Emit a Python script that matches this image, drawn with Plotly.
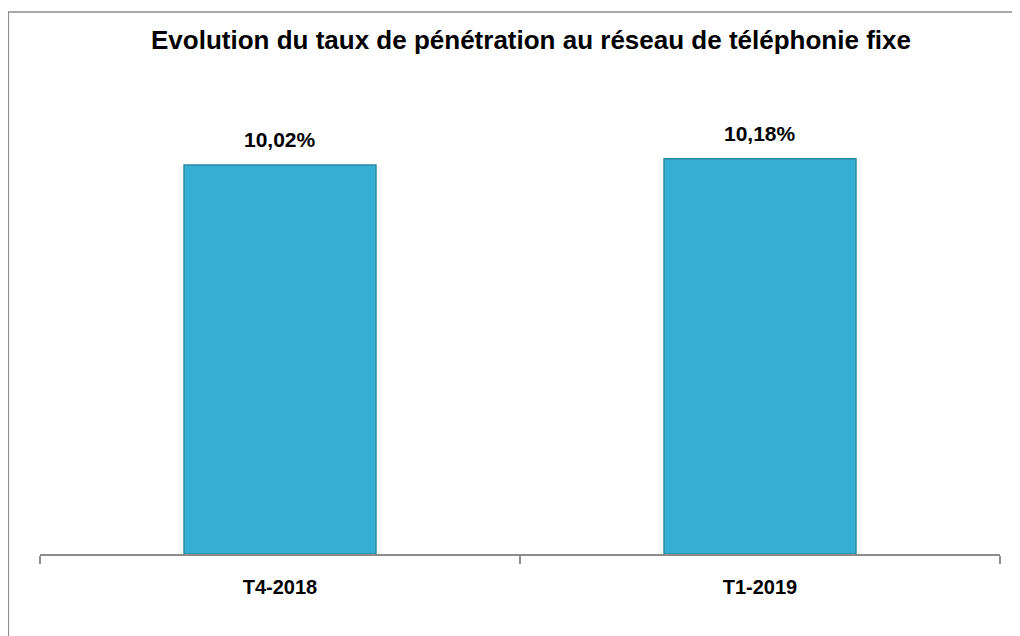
import plotly.graph_objects as go

categories = ["T4-2018", "T1-2019"]
values = [10.02, 10.18]
labels = ["10,02%", "10,18%"]
title_text = "Evolution du taux de pénétration au réseau de téléphonie fixe"

FONT = "Liberation Sans, Arial, sans-serif"

fig = go.Figure()
fig.add_trace(go.Bar(
    x=categories, y=values, width=0.4,
    marker=dict(color="#36ADD3", line=dict(color="#2A8BA8", width=1.5)),
    hoverinfo="skip",
))

for c, v, t in zip(categories, values, labels):
    fig.add_annotation(x=c, y=v, text=t, showarrow=False, yanchor="bottom",
                       yshift=12, font=dict(family=FONT, size=21, color="black", weight="bold"))

# outer frame (page is offset by the 8px body margin)
fig.add_shape(type="rect", xref="paper", yref="paper",
              x0=-0.033, x1=1.03, y0=-0.2, y1=1.163,
              line=dict(color="#8C8C8C", width=1.5), fillcolor="rgba(0,0,0,0)", layer="below")

fig.update_layout(
    width=1020, height=636,
    margin=dict(l=32, r=28, t=80, b=90),
    paper_bgcolor="white", plot_bgcolor="white",
    showlegend=False,
    title=dict(text=title_text, x=523 / 1020, xanchor="center", y=1 - 32 / 636, yanchor="middle",
               font=dict(family=FONT, size=26, color="black", weight="bold")),
    xaxis=dict(type="category", tickson="boundaries", ticks="outside", ticklen=8,
               tickcolor="#8C8C8C", tickwidth=2, showline=True, linecolor="#8C8C8C", linewidth=2,
               showgrid=False, zeroline=False, ticklabelstandoff=14,
               tickfont=dict(family=FONT, size=20, color="black", weight="bold")),
    yaxis=dict(range=[0, 12], visible=False, showgrid=False, zeroline=False),
)

fig.write_html("out.html")
